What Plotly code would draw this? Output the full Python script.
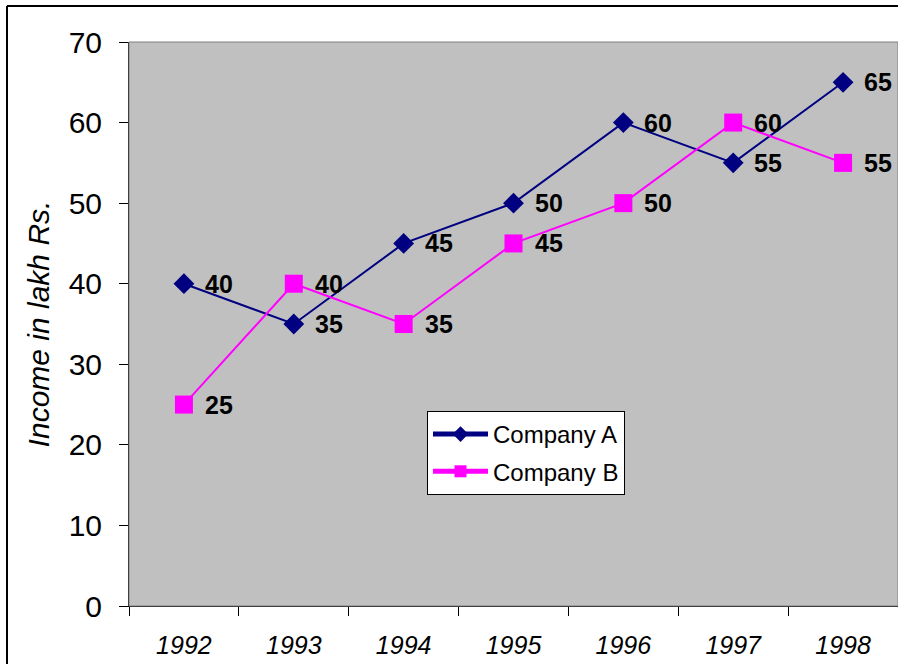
import plotly.graph_objects as go

years = ["1992", "1993", "1994", "1995", "1996", "1997", "1998"]
company_a = [40, 35, 45, 50, 60, 55, 65]
company_b = [25, 40, 35, 45, 50, 60, 55]
y_ticks = [0, 10, 20, 30, 40, 50, 60, 70]

FONT = "Arial, 'Liberation Sans', sans-serif"
W, H = 898, 664
L, R, T, B = 129, 0, 42, 58
pw, ph = W - L - R, H - T - B

fig = go.Figure()
fig.add_trace(go.Scatter(
    x=years, y=company_a, name="Company A", mode="lines+markers",
    legendgroup="a",
    line=dict(color="#000080", width=2),
    marker=dict(symbol="diamond", size=16, color="#000080"),
))
fig.add_trace(go.Scatter(
    x=years, y=company_b, name="Company B", mode="lines+markers",
    legendgroup="b",
    line=dict(color="#FF00FF", width=2),
    marker=dict(symbol="square", size=18, color="#FF00FF"),
))

annotations = []
for series in (company_a, company_b):
    for i, v in enumerate(series):
        annotations.append(dict(
            x=i, y=v, xref="x", yref="y", text="<b>%d</b>" % v, showarrow=False,
            xanchor="left", yanchor="middle", xshift=19,
            font=dict(family=FONT, size=25, color="black"),
        ))

shapes = [
    # plot area border
    dict(type="rect", xref="paper", yref="paper", x0=0, y0=0, x1=1, y1=1,
         line=dict(color="#808080", width=1), layer="above"),
    # outer chart border (left and top edges visible)
    dict(type="line", xref="paper", yref="paper",
         x0=(7 - L) / pw, x1=(7 - L) / pw, y0=-1, y1=1 + (T - 6) / ph,
         line=dict(color="black", width=2)),
    dict(type="line", xref="paper", yref="paper",
         x0=(7 - L) / pw, x1=2, y0=1 + (T - 6) / ph, y1=1 + (T - 6) / ph,
         line=dict(color="black", width=2)),
]

fig.update_layout(
    width=W, height=H,
    margin=dict(l=L, r=R, t=T, b=B, autoexpand=False),
    paper_bgcolor="white", plot_bgcolor="#C0C0C0",
    font=dict(family=FONT, color="black"),
    showlegend=True,
    legend=dict(
        x=(427 - L) / pw, y=(H - B - 411) / ph, xanchor="left", yanchor="top",
        bgcolor="white", bordercolor="black", borderwidth=1,
        font=dict(family=FONT, size=24, color="black"),
        tracegroupgap=3, itemsizing="constant", itemwidth=55,
    ),
    annotations=annotations,
    shapes=shapes,
)
fig.update_xaxes(
    type="category", categoryorder="array", categoryarray=years,
    range=[-0.5, 6.5],
    showgrid=False, zeroline=False,
    showline=True, linecolor="black", linewidth=1,
    ticks="outside", ticklen=9, tickcolor="black", tickson="boundaries",
    tickfont=dict(family=FONT, size=25, style="italic", color="black"),
    ticklabelstandoff=17,
)
fig.update_yaxes(
    range=[0, 70], tickvals=y_ticks,
    showgrid=False, zeroline=False,
    showline=True, linecolor="black", linewidth=1,
    ticks="outside", ticklen=9, tickcolor="black",
    tickfont=dict(family=FONT, size=30, color="black"),
    ticklabelstandoff=11,
    title=dict(text="Income in lakh Rs.", standoff=10,
               font=dict(family=FONT, size=30, style="italic", color="black")),
)

fig.write_html(
    "out.html",
    config={"displayModeBar": False},
    post_script="document.body.style.margin='0';document.body.style.overflow='hidden';",
)
